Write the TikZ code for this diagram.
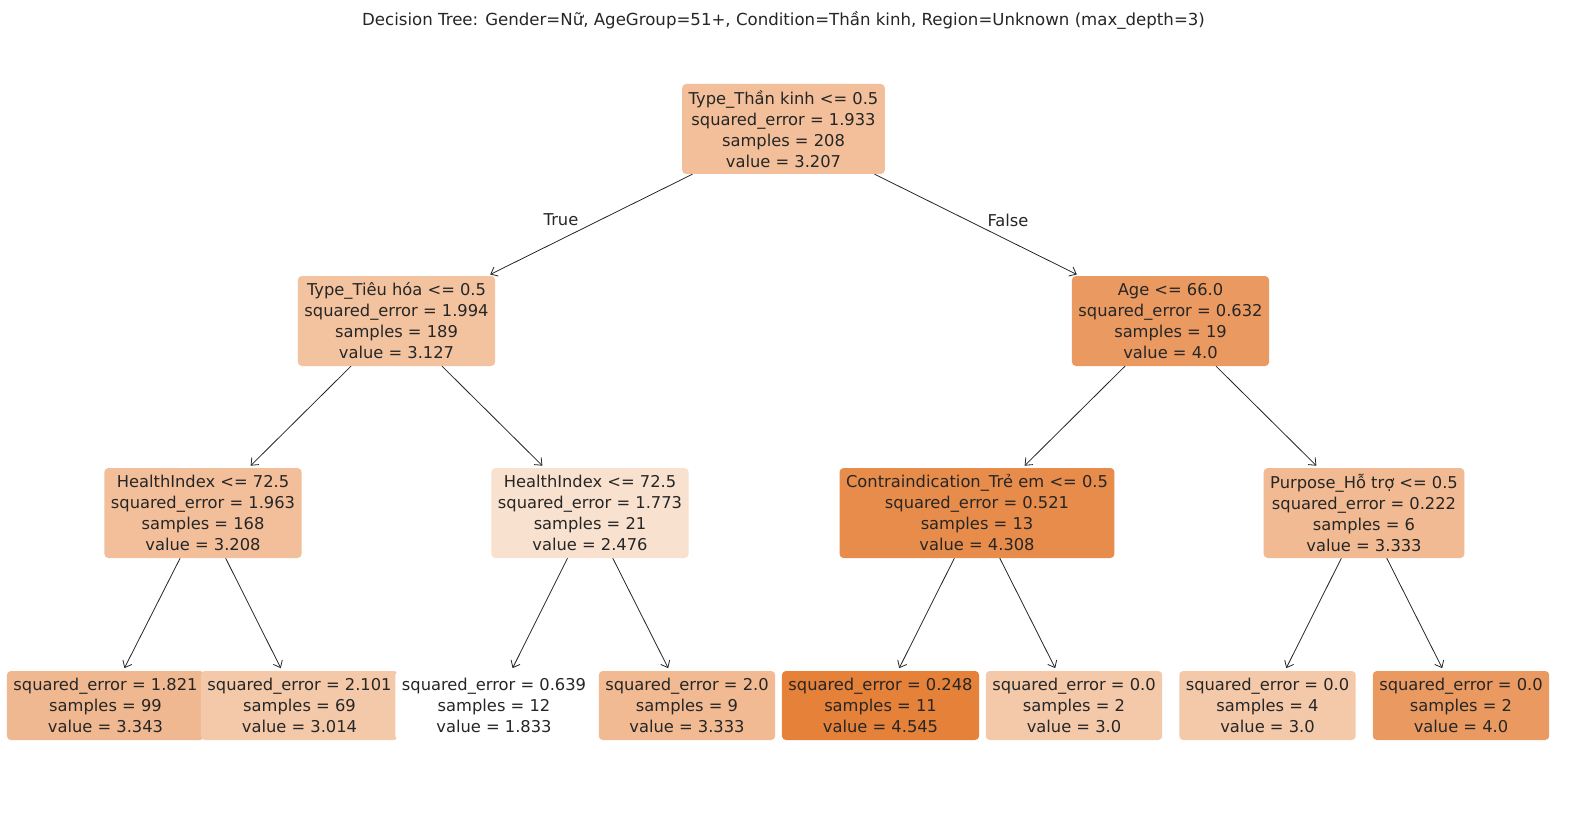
\documentclass[tikz,border=0pt]{standalone}
\usepackage{fontspec}
\setmainfont{DejaVu Sans}
\usetikzlibrary{arrows.meta}
\definecolor{sko}{RGB}{229,129,57}
\definecolor{txt}{RGB}{38,38,38}
\tikzset{
  tnode/.style={rectangle, rounded corners=4pt, align=center, inner xsep=6.5pt, inner ysep=0pt,
    text=txt, font=\fontsize{16.3}{21}\selectfont, draw=none},
  inner4/.style={tnode, minimum height=90pt},
  leaf/.style={tnode, minimum height=69pt},
  edge/.style={draw=txt, line width=0.8pt, -{Straight Barb[length=6pt,width=10pt,line width=0.8pt]}, shorten >=3pt},
  elabel/.style={text=txt, font=\fontsize{16.3}{21}\selectfont}
}
\begin{document}
\begin{tikzpicture}[x=1pt,y=-1pt]
\useasboundingbox (0,0) rectangle (1570,813);
\fill[white] (0,0) rectangle (1570,813);
\node[text=txt, font=\fontsize{16.6}{20}\selectfont] (title) at (783.5,20) {Decision Tree: Gender=Nữ, AgeGroup=51+, Condition=Thần kinh, Region=Unknown (max\_depth=3)};

\node[inner4, fill=sko!51!white] (root) at (783.5,129) {Type\_Thần kinh <= 0.5\\squared\_error = 1.933\\samples = 208\\value = 3.207};
\node[inner4, fill=sko!48!white] (l1) at (396.5,321) {Type\_Tiêu hóa <= 0.5\\squared\_error = 1.994\\samples = 189\\value = 3.127};
\node[inner4, fill=sko!80!white] (r1) at (1170.5,321) {Age <= 66.0\\squared\_error = 0.632\\samples = 19\\value = 4.0};
\node[inner4, fill=sko!51!white] (ll) at (203,513) {HealthIndex <= 72.5\\squared\_error = 1.963\\samples = 168\\value = 3.208};
\node[inner4, fill=sko!24!white] (lr) at (590,513) {HealthIndex <= 72.5\\squared\_error = 1.773\\samples = 21\\value = 2.476};
\node[inner4, fill=sko!91!white] (rl) at (977,513) {Contraindication\_Trẻ em <= 0.5\\squared\_error = 0.521\\samples = 13\\value = 4.308};
\node[inner4, fill=sko!55!white] (rr) at (1364,513) {Purpose\_Hỗ trợ <= 0.5\\squared\_error = 0.222\\samples = 6\\value = 3.333};

\node[leaf, fill=sko!56!white] (a1) at (105.5,705.5) {squared\_error = 1.821\\samples = 99\\value = 3.343};
\node[leaf, fill=sko!43!white] (a2) at (299.5,705.5) {squared\_error = 2.101\\samples = 69\\value = 3.014};
\node[leaf, fill=white] (a3) at (494,705.5) {squared\_error = 0.639\\samples = 12\\value = 1.833};
\node[leaf, fill=sko!55!white] (a4) at (687,705.5) {squared\_error = 2.0\\samples = 9\\value = 3.333};
\node[leaf, fill=sko!100!white] (a5) at (880.5,705.5) {squared\_error = 0.248\\samples = 11\\value = 4.545};
\node[leaf, fill=sko!43!white] (a6) at (1074,705.5) {squared\_error = 0.0\\samples = 2\\value = 3.0};
\node[leaf, fill=sko!43!white] (a7) at (1267.5,705.5) {squared\_error = 0.0\\samples = 4\\value = 3.0};
\node[leaf, fill=sko!80!white] (a8) at (1461,705.5) {squared\_error = 0.0\\samples = 2\\value = 4.0};

\path[edge] (root) -- (l1);
\path[edge] (root) -- (r1);
\path[edge] (l1) -- (ll);
\path[edge] (l1) -- (lr);
\path[edge] (r1) -- (rl);
\path[edge] (r1) -- (rr);
\path[edge] (ll) -- (a1);
\path[edge] (ll) -- (a2);
\path[edge] (lr) -- (a3);
\path[edge] (lr) -- (a4);
\path[edge] (rl) -- (a5);
\path[edge] (rl) -- (a6);
\path[edge] (rr) -- (a7);
\path[edge] (rr) -- (a8);

\node[elabel] (tl) at (561,220) {True};
\node[elabel] (fl) at (1008,220) {False};
\end{tikzpicture}
\end{document}
